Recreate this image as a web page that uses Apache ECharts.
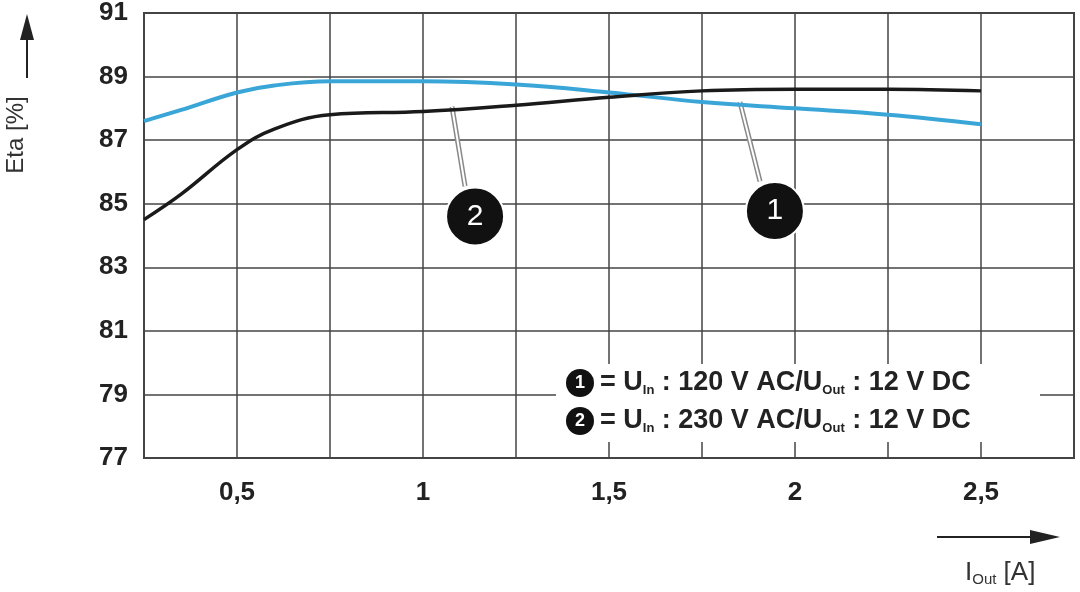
<!DOCTYPE html>
<html><head><meta charset="utf-8">
<script src="https://cdn.jsdelivr.net/npm/echarts@6/dist/echarts.min.js"></script>
<style>html,body{margin:0;background:#fff}#c{width:1080px;height:592px}</style>
</head><body><div id="c"></div>
<script>
const xVals=[0.25,0.35,0.5,0.6,0.75,1,1.25,1.5,1.75,2,2.25,2.5];
const eta120=[87.6,87.95,88.5,88.72,88.85,88.85,88.75,88.5,88.2,88.0,87.8,87.5];
const eta230=[84.5,85.3,86.7,87.35,87.8,87.9,88.1,88.35,88.55,88.6,88.6,88.55];
const xTicks=[0.5,1,1.5,2,2.5];
const callouts=[{n:'1',x:1.946,y:84.77,lx1:1.906,ly1:85.7,lx2:1.852,ly2:88.2},{n:'2',x:1.14,y:84.6,lx1:1.113,ly1:85.55,lx2:1.078,ly2:88.05}];
const pair=(xs,ys)=>xs.map((x,i)=>[x,ys[i]]);
const ch=echarts.init(document.getElementById('c'));
const F='Liberation Sans, Arial, sans-serif';
const leaders=callouts.map(c=>({type:'line',data:[[c.lx1,c.ly1],[c.lx2,c.ly2]],symbol:'none',silent:true,z:3,
  lineStyle:{color:'#888',width:5},emphasis:{disabled:true}}));
const leadersIn=callouts.map(c=>({type:'line',data:[[c.lx1,c.ly1],[c.lx2,c.ly2]],symbol:'none',silent:true,z:4,
  lineStyle:{color:'#fff',width:2},emphasis:{disabled:true}}));
ch.setOption({
  animation:false,
  grid:{left:144,right:6,top:11,bottom:134,show:true,borderColor:'#444',borderWidth:2},
  xAxis:{type:'value',min:0.25,max:2.75,interval:0.25,
    axisLine:{show:false},axisTick:{show:false},
    splitLine:{show:true,lineStyle:{color:'#444',width:1.5}},
    axisLabel:{margin:22,fontFamily:F,fontWeight:'bold',fontSize:26,color:'#222',
      formatter:v=>xTicks.some(t=>Math.abs(t-v)<1e-6)?String(v).replace('.',','):''}},
  yAxis:{type:'value',min:77,max:91,interval:2,
    axisLine:{show:false},axisTick:{show:false},
    splitLine:{show:true,lineStyle:{color:'#444',width:1.5}},
    axisLabel:{margin:16,fontFamily:F,fontWeight:'bold',fontSize:26,color:'#222'}},
  series:[
    {type:'line',name:'1',data:pair(xVals,eta120),smooth:0.4,symbol:'none',z:5,lineStyle:{color:'#3aa6d8',width:4}},
    {type:'line',name:'2',data:pair(xVals,eta230),smooth:0.4,symbol:'none',z:5,lineStyle:{color:'#1a1a1a',width:3.5}},
    ...leaders,...leadersIn,
    {type:'scatter',data:callouts.map(c=>[c.x,c.y,c.n]),symbolSize:58,z:6,
      itemStyle:{color:'#111',opacity:1,borderColor:'#fff',borderWidth:2},
      label:{show:true,position:'inside',formatter:p=>p.value[2],color:'#fff',fontFamily:F,fontSize:30}}
  ],
  graphic:[
    {type:'rect',shape:{x:556,y:364,width:484,height:78},style:{fill:'#fff'},z:10},
    ...['120','230'].map((v,i)=>({type:'group',z:11,children:[
      {type:'circle',shape:{cx:580,cy:383+i*38,r:14},style:{fill:'#111'},z:11},
      {type:'text',x:580,y:383+i*38,style:{text:String(i+1),fill:'#fff',font:'bold 18px '+F,align:'center',verticalAlign:'middle'},z:12},
      {type:'text',x:600,y:383+i*38,z:12,style:{verticalAlign:'middle',
        text:'{b|= U}{s|In}{b| : '+v+' V AC/U}{s|Out}{b| : 12 V DC}',
        rich:{b:{font:'bold 27px '+F,fill:'#222'},s:{font:'bold 13px '+F,fill:'#222',padding:[14,0,0,0]}}}}
    ]})),
    {type:'text',x:16,y:135,rotation:Math.PI/2,z:10,style:{text:'Eta [%]',font:'24px '+F,fill:'#333',align:'center',verticalAlign:'middle'}},
    {type:'line',shape:{x1:27,y1:78,x2:27,y2:28},style:{stroke:'#222',lineWidth:2}},
    {type:'polygon',shape:{points:[[20,40],[34,40],[27,14]]},style:{fill:'#222'}},
    {type:'line',shape:{x1:937,y1:537,x2:1040,y2:537},style:{stroke:'#222',lineWidth:2}},
    {type:'polygon',shape:{points:[[1030,530],[1030,544],[1060,537]]},style:{fill:'#222'}},
    {type:'text',x:965,y:573,z:10,style:{verticalAlign:'middle',text:'{b|I}{s|Out}{b| [A]}',
      rich:{b:{font:'26px '+F,fill:'#333'},s:{font:'15px '+F,fill:'#333',padding:[14,0,0,0]}}}}
  ]
});
</script></body></html>
